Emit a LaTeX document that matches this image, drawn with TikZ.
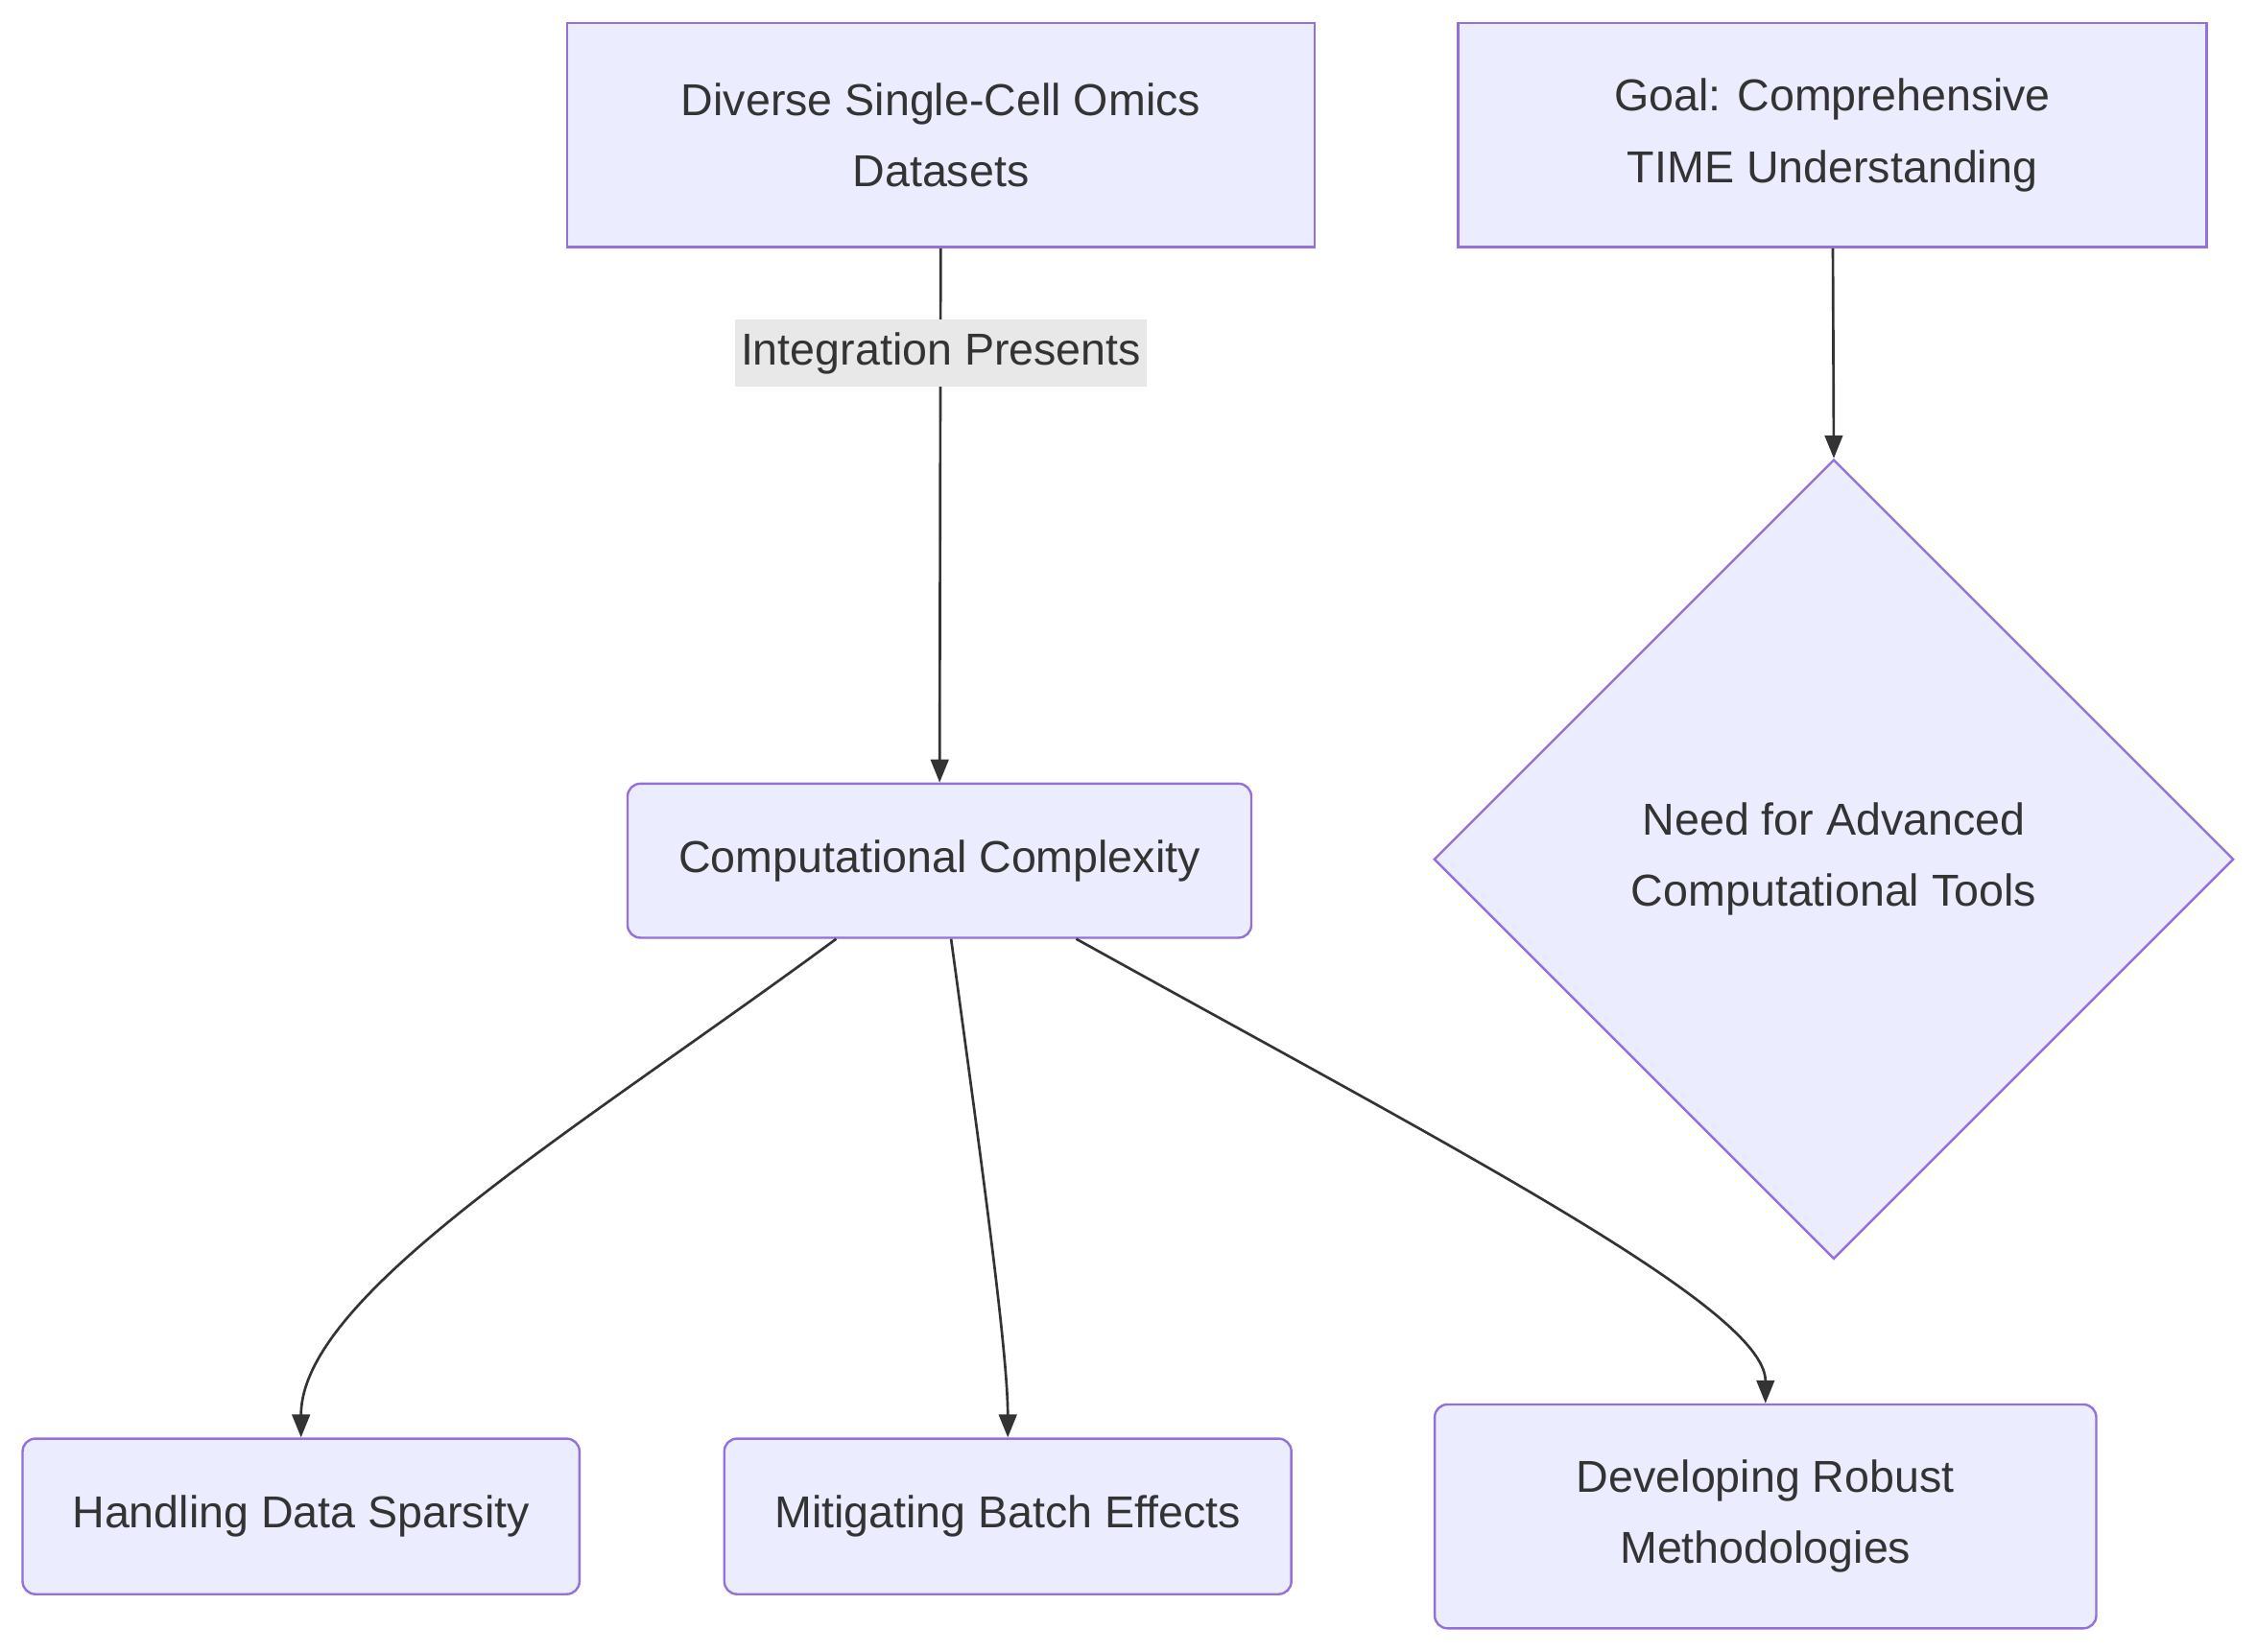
\documentclass[tikz,border=0pt]{standalone}
\usepackage{fontspec}
\setmainfont{Liberation Sans}
\usetikzlibrary{shapes.geometric,arrows.meta}
\begin{document}
\begin{tikzpicture}[x=0.02cm,y=-0.02cm,
 box/.style={draw=violet!70!blue!80,line width=0.9pt,fill=blue!8,font=\fontsize{17.5}{28}\selectfont,text=black!80,align=center,inner sep=0},
 edge/.style={draw=black!80,line width=1pt,-{Triangle[length=9pt,width=7pt]}}]
\definecolor{bd}{HTML}{9370DB}\definecolor{bf}{HTML}{ECECFF}
\tikzset{box/.append style={draw=bd,fill=bf}}
\useasboundingbox (0,0) rectangle (1552,1136);
\node[box,minimum width=10.28cm,minimum height=3.08cm] (A) at (647,93) {Diverse Single-Cell Omics\\Datasets};
\node[box,minimum width=10.3cm,minimum height=3.08cm] (G) at (1260,93) {Goal: Comprehensive\\TIME Understanding};
\node[box,rounded corners=5pt,minimum width=8.58cm,minimum height=2.12cm] (C) at (646,592) {Computational Complexity};
\node[box,diamond,minimum width=11cm,minimum height=11cm] (D) at (1261,591) {Need for Advanced\\Computational Tools};
\node[box,rounded corners=5pt,minimum width=7.66cm,minimum height=2.14cm] (H1) at (207,1043) {Handling Data Sparsity};
\node[box,rounded corners=5pt,minimum width=7.8cm,minimum height=2.14cm] (H2) at (693,1043) {Mitigating Batch Effects};
\node[box,rounded corners=5pt,minimum width=9.1cm,minimum height=3.08cm] (H3) at (1214,1043) {Developing Robust\\Methodologies};
\draw[edge] (A) -- (C);
\node[fill=black!9,font=\fontsize{17.5}{28}\selectfont,text=black!80,minimum width=5.66cm,minimum height=0.92cm,inner sep=0] (L) at (647,243) {Integration Presents};
\draw[edge] (G) -- (D.north);
\draw[edge] (C.south) ++(-71,0) coordinate (c1) (c1) .. controls (400,775) and (207,890) .. (H1.north);
\draw[edge] (C.south) ++(8,0) coordinate (c2) (c2) .. controls (675,800) and (693,930) .. (H2.north);
\draw[edge] (C.south) ++(94,0) coordinate (c3) (c3) .. controls (1000,790) and (1214,900) .. (H3.north);
\end{tikzpicture}
\end{document}
